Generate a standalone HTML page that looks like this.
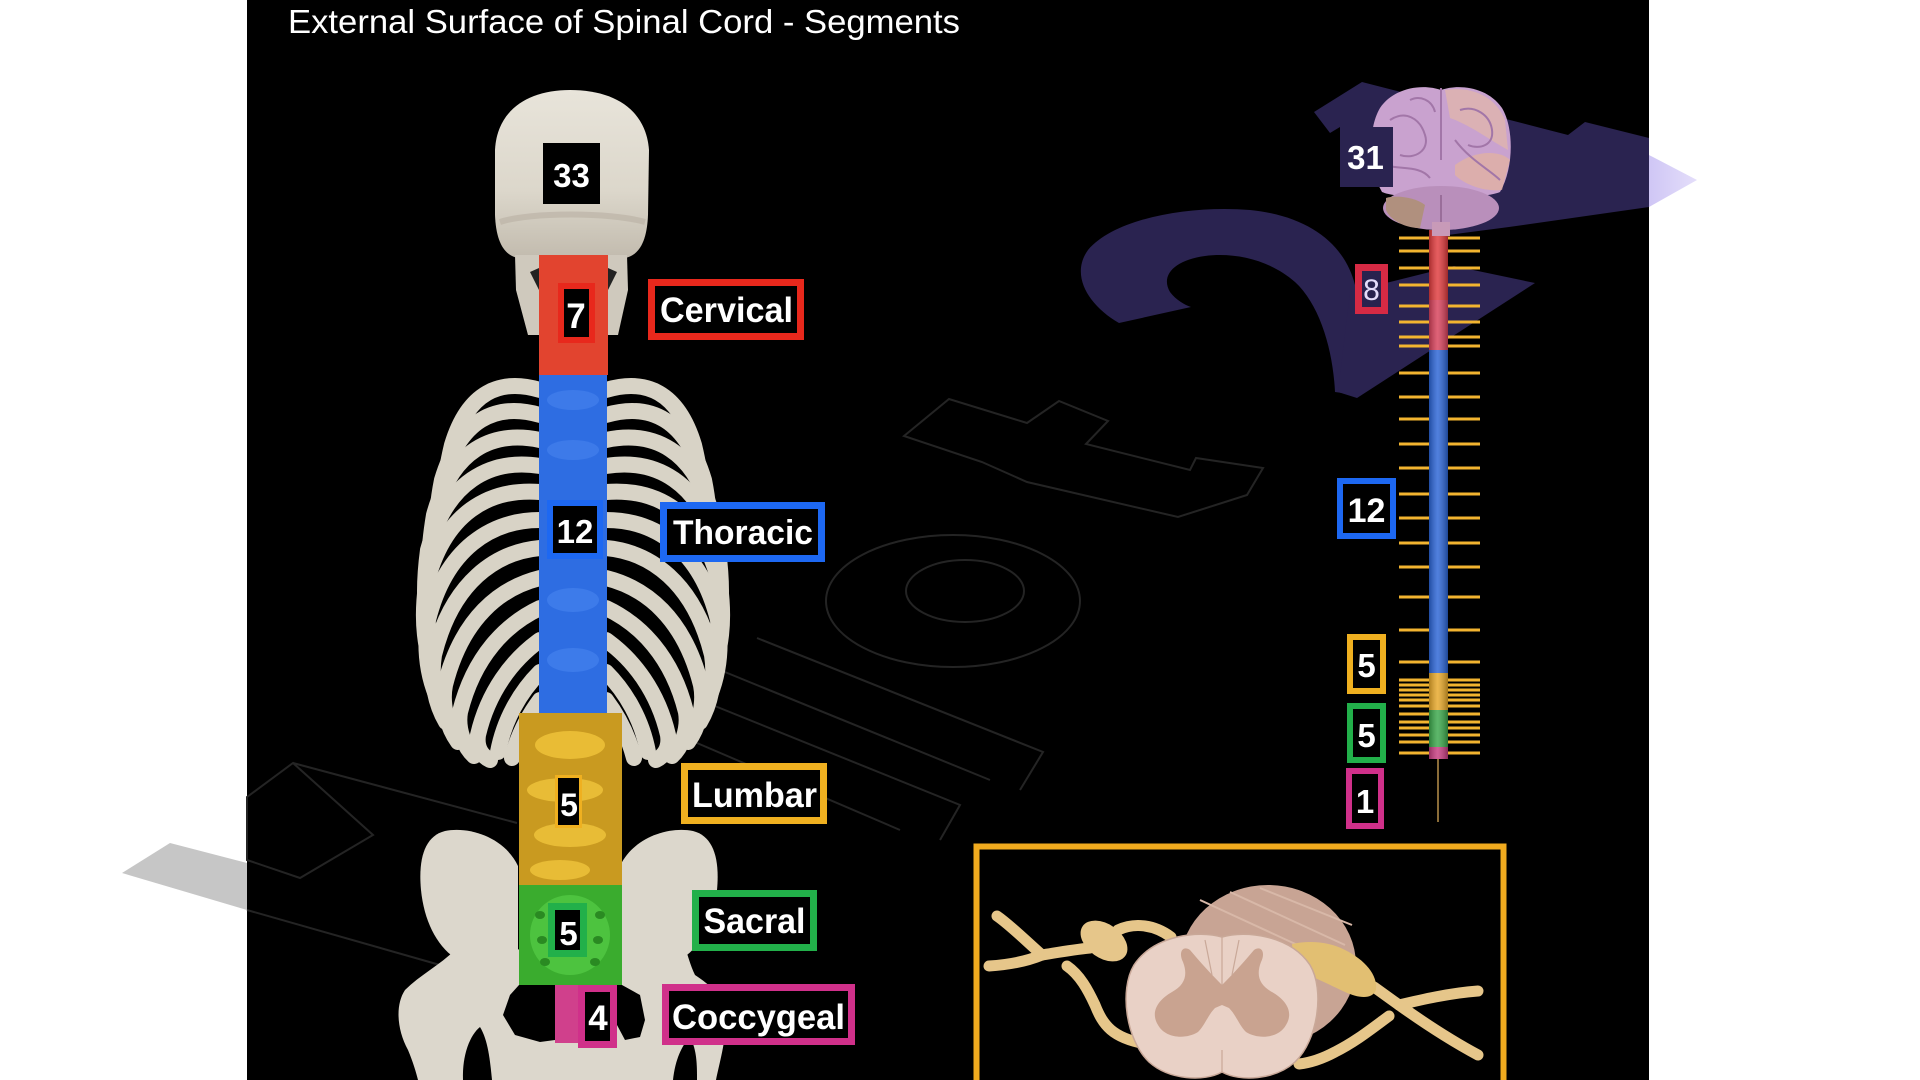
<!DOCTYPE html>
<html><head><meta charset="utf-8"><style>html,body{margin:0;padding:0;background:#fff;}svg{display:block}</style></head>
<body>
<svg xmlns="http://www.w3.org/2000/svg" width="1920" height="1080" viewBox="0 0 1920 1080" font-family="'Liberation Sans', Arial, sans-serif">
<defs>
 <linearGradient id="skullG" x1="0" y1="0" x2="0" y2="1"><stop offset="0" stop-color="#e8e4da"/><stop offset="0.6" stop-color="#dcd7cb"/><stop offset="1" stop-color="#c2bbae"/></linearGradient>
 <linearGradient id="cordG" x1="0" y1="0" x2="1" y2="0"><stop offset="0" stop-color="#000" stop-opacity="0.25"/><stop offset="0.45" stop-color="#fff" stop-opacity="0.18"/><stop offset="1" stop-color="#000" stop-opacity="0.3"/></linearGradient>
 <linearGradient id="lav" x1="0" y1="0" x2="1" y2="0"><stop offset="0" stop-color="#cfc6f5"/><stop offset="1" stop-color="#e4defa"/></linearGradient>
</defs>
<rect width="1920" height="1080" fill="#fff"/>
<polygon points="122,873 170,843 247,863 247,910" fill="#c6c6c6"/>
<rect x="247" y="0" width="1402" height="1080" fill="#000"/>

<!-- faint watermark outlines -->
<g fill="none" stroke="#242424" stroke-width="2">
 <polygon points="904,436 949,399 1027,423 1059,401 1108,421 1086,444 1190,470 1196,458 1263,468 1247,495 1178,517 1027,482 982,462"/>
 <ellipse cx="953" cy="601" rx="127" ry="66"/>
 <ellipse cx="965" cy="591" rx="59" ry="31"/>
 <path d="M757,638 L1043,752 L1020,790 M720,670 L990,780 M700,700 L960,805 L940,840 M690,740 L900,830"/>
 <polygon points="247,797 293,763 373,835 300,878 247,860"/>
 <path d="M247,910 L447,967 M293,763 L517,823 M520,785 L560,760"/>
</g>

<!-- purple watermark shapes -->
<g fill="#2a2350">
 <polygon points="1314,112 1362,82 1568,135 1585,122 1649,138 1649,207 1509,227 1440,236 1393,190 1393,187 1340,187 1340,127 1330,133"/>
 <path d="M1119,323 C1088,305 1070,275 1088,250 C1115,218 1190,205 1250,210 C1310,216 1345,245 1355,285 C1360,315 1359,360 1357,395 L1335,392 C1333,350 1320,305 1295,282 C1270,260 1235,252 1205,256 C1175,260 1160,275 1170,292 C1176,300 1185,305 1191,307 Z"/>
 <polygon points="1350,292 1454,266 1535,283 1357,398 1338,392"/>
</g>
<polygon points="1649,155 1697,180 1649,207" fill="url(#lav)"/>

<!-- title -->
<text x="288" y="33" font-size="33" fill="#fff" textLength="672" lengthAdjust="spacingAndGlyphs">External Surface of Spinal Cord - Segments</text>

<!-- skull -->
<path d="M570,90 C615,90 646,110 649,150 L648,215 C647,240 640,255 625,258 L518,258 C503,255 496,240 495,215 L495,150 C497,110 528,90 570,90 Z" fill="url(#skullG)"/>
<path d="M500,222 C530,212 610,212 645,222" stroke="#bcb4a6" stroke-width="6" fill="none" opacity="0.7"/>
<polygon points="515,255 540,255 540,335 528,335 516,290" fill="#cfc9bd"/>
<polygon points="627,255 608,255 608,335 618,335 628,290" fill="#cfc9bd"/>
<polygon points="530,272 539,268 539,290" fill="#222"/>
<polygon points="617,272 608,268 608,290" fill="#222"/>

<!-- ribcage -->
<g fill="none" stroke="#d8d3c6" stroke-width="16" stroke-linecap="round">
 <path d="M540,390 C500,378 468,392 452,445 C446,470 444,490 446,500"/>
 <path d="M540,415 C495,402 460,420 442,480 C437,505 436,525 438,540"/>
 <path d="M540,440 C492,430 452,450 434,515 C429,545 428,570 431,585"/>
 <path d="M540,466 C490,458 446,482 428,550 C424,580 424,605 428,625"/>
 <path d="M540,492 C490,488 444,512 426,585 C422,615 424,640 430,660"/>
 <path d="M540,520 C492,520 446,548 428,620 C424,650 428,675 436,695"/>
 <path d="M540,548 C496,552 452,582 434,655 C430,680 436,705 446,722"/>
 <path d="M540,578 C500,588 462,618 445,685 C441,705 448,728 458,742"/>
 <path d="M540,608 C506,624 474,656 460,712 C457,730 465,748 474,756"/>
 <path d="M540,640 C512,660 488,692 478,735 C476,748 482,756 490,760"/>
 <path d="M540,672 C520,692 504,720 498,752"/>
 <path d="M540,700 C528,716 518,735 512,758"/>
</g>
<g transform="translate(1146,0) scale(-1,1)" fill="none" stroke="#d8d3c6" stroke-width="16" stroke-linecap="round">
 <path d="M540,390 C500,378 468,392 452,445 C446,470 444,490 446,500"/>
 <path d="M540,415 C495,402 460,420 442,480 C437,505 436,525 438,540"/>
 <path d="M540,440 C492,430 452,450 434,515 C429,545 428,570 431,585"/>
 <path d="M540,466 C490,458 446,482 428,550 C424,580 424,605 428,625"/>
 <path d="M540,492 C490,488 444,512 426,585 C422,615 424,640 430,660"/>
 <path d="M540,520 C492,520 446,548 428,620 C424,650 428,675 436,695"/>
 <path d="M540,548 C496,552 452,582 434,655 C430,680 436,705 446,722"/>
 <path d="M540,578 C500,588 462,618 445,685 C441,705 448,728 458,742"/>
 <path d="M540,608 C506,624 474,656 460,712 C457,730 465,748 474,756"/>
 <path d="M540,640 C512,660 488,692 478,735 C476,748 482,756 490,760"/>
 <path d="M540,672 C520,692 504,720 498,752"/>
 <path d="M540,700 C528,716 518,735 512,758"/>
</g>

<!-- pelvis -->
<g fill="#dcd7cc">
 <path d="M518,866 C505,838 470,826 445,831 C425,836 418,858 421,890 C424,920 436,945 455,958 L518,975 Z"/>
 <path transform="translate(1138,0) scale(-1,1)" d="M518,866 C505,838 470,826 445,831 C425,836 418,858 421,890 C424,920 436,945 455,958 L518,975 Z"/>
 <path d="M455,950 C440,965 420,975 405,990 C395,1005 397,1030 408,1050 C413,1062 416,1072 418,1080 L716,1080 C720,1060 728,1035 725,1010 C722,995 710,985 695,975 C690,965 688,955 685,948 Z"/>
</g>
<g fill="#000">
 <polygon points="519,985 555,985 555,1040 540,1042 515,1035 503,1015 510,995"/>
 <polygon points="582,985 622,985 640,995 645,1020 640,1037 625,1040 617,1025 617,1000 582,1000"/>
 <path d="M463,1080 C462,1055 470,1035 480,1027 C488,1040 490,1060 492,1080 Z"/>
 <path d="M673,1080 C675,1060 682,1045 690,1037 C697,1050 697,1065 697,1080 Z"/>
</g>

<!-- spine bars -->
<rect x="539" y="255" width="69" height="120" fill="#e2442f"/>
<rect x="539" y="375" width="68" height="338" fill="#2e6de2"/>
<g fill="#4a86f0" opacity="0.55">
 <ellipse cx="573" cy="400" rx="26" ry="10"/><ellipse cx="573" cy="450" rx="26" ry="10"/><ellipse cx="573" cy="600" rx="26" ry="12"/><ellipse cx="573" cy="660" rx="26" ry="12"/>
</g>
<rect x="519" y="713" width="103" height="172" fill="#c99a20"/>
<g fill="#eec23a" opacity="0.85">
 <ellipse cx="570" cy="745" rx="35" ry="14"/><ellipse cx="565" cy="790" rx="38" ry="12"/><ellipse cx="570" cy="835" rx="36" ry="12"/><ellipse cx="560" cy="870" rx="30" ry="10"/>
</g>
<rect x="519" y="885" width="103" height="100" fill="#3aac2e"/>
<g fill="#52c944" opacity="0.8"><ellipse cx="570" cy="935" rx="40" ry="40"/></g>
<g fill="#2a8a22"><ellipse cx="540" cy="915" rx="5" ry="4"/><ellipse cx="600" cy="915" rx="5" ry="4"/><ellipse cx="542" cy="940" rx="5" ry="4"/><ellipse cx="598" cy="940" rx="5" ry="4"/><ellipse cx="545" cy="962" rx="5" ry="4"/><ellipse cx="595" cy="962" rx="5" ry="4"/></g>
<rect x="555" y="985" width="27" height="58" fill="#d0408c"/>

<!-- left labels -->
<g font-weight="bold" fill="#fff" text-anchor="middle">
 <rect x="543" y="143" width="57" height="61" fill="#000"/>
 <text x="571.5" y="187" font-size="33">33</text>

 <rect x="561" y="286" width="31" height="54" fill="#000" stroke="#e8281c" stroke-width="6"/>
 <text x="576" y="328" font-size="35">7</text>
 <rect x="651.5" y="282.5" width="149" height="54" fill="#000" stroke="#e8281c" stroke-width="7"/>
 <text x="726.5" y="322" font-size="35" textLength="133" lengthAdjust="spacingAndGlyphs">Cervical</text>

 <rect x="550" y="503" width="50" height="53" fill="#000" stroke="#1d68f2" stroke-width="6"/>
 <text x="575" y="543" font-size="33">12</text>
 <rect x="663.5" y="505.5" width="158" height="53" fill="#000" stroke="#1d68f2" stroke-width="7"/>
 <text x="743" y="544" font-size="34" textLength="140" lengthAdjust="spacingAndGlyphs">Thoracic</text>

 <rect x="556.5" y="776.5" width="24" height="50" fill="#000" stroke="#efb020" stroke-width="3"/>
 <text x="569" y="816" font-size="32">5</text>
 <rect x="684.5" y="766.5" width="139" height="54" fill="#000" stroke="#efb020" stroke-width="7"/>
 <text x="754.5" y="807" font-size="35" textLength="125" lengthAdjust="spacingAndGlyphs">Lumbar</text>

 <rect x="551.5" y="906.5" width="32" height="47" fill="#000" stroke="#22b04a" stroke-width="7"/>
 <text x="568.5" y="945" font-size="33">5</text>
 <rect x="695.5" y="893.5" width="118" height="54" fill="#000" stroke="#22b04a" stroke-width="7"/>
 <text x="754.5" y="933" font-size="35" textLength="102" lengthAdjust="spacingAndGlyphs">Sacral</text>

 <rect x="581.5" y="988.5" width="32" height="56" fill="#000" stroke="#d0308a" stroke-width="7"/>
 <text x="598" y="1030" font-size="35">4</text>
 <rect x="665.5" y="987.5" width="186" height="54" fill="#000" stroke="#d0308a" stroke-width="7"/>
 <text x="758.5" y="1029" font-size="35" textLength="173" lengthAdjust="spacingAndGlyphs">Coccygeal</text>
</g>

<!-- right: nerve lines -->
<g stroke="#f2b430" stroke-width="3">
 <path d="M1399,238H1480M1399,251H1480M1399,268H1480M1399,285H1480M1399,306H1480M1399,322H1480M1399,337H1480M1399,346H1480M1399,373H1480M1399,397H1480M1399,419H1480M1399,444H1480M1399,468H1480M1399,494H1480M1399,518H1480M1399,543H1480M1399,567H1480M1399,597H1480M1399,630H1480M1399,662H1480M1399,680H1480M1399,685H1480M1399,690H1480M1399,695H1480M1399,700H1480M1399,706H1480M1399,714H1480M1399,722H1480M1399,728H1480M1399,735H1480M1399,742H1480M1399,753H1480"/>
</g>
<!-- cord -->
<rect x="1429" y="230" width="19" height="120" fill="#e03a3c"/>
<rect x="1429" y="300" width="19" height="50" fill="#d8405a"/>
<rect x="1429" y="350" width="19" height="323" fill="#2a64d6"/>
<rect x="1429" y="673" width="19" height="37" fill="#e8a828"/>
<rect x="1429" y="710" width="19" height="37" fill="#3aa84a"/>
<rect x="1429" y="747" width="19" height="12" fill="#c83c80"/>
<rect x="1429" y="230" width="19" height="529" fill="url(#cordG)"/>
<line x1="1438" y1="759" x2="1438" y2="822" stroke="#b8904a" stroke-width="1.5"/>

<!-- brain -->
<path d="M1441,90 C1425,84 1395,86 1380,108 C1368,128 1368,168 1382,192 C1400,200 1482,200 1500,192 C1514,168 1514,128 1502,108 C1487,86 1457,84 1441,90 Z" fill="#c9a2cf"/>
<path d="M1445,90 C1470,86 1495,95 1505,120 L1508,150 C1490,140 1470,125 1450,118 Z" fill="#e2b8a8" opacity="0.7"/>
<path d="M1455,165 C1475,150 1500,150 1510,160 L1502,190 C1485,192 1465,185 1455,175 Z" fill="#e4b49c" opacity="0.7"/>
<g fill="none" stroke="#a276a8" stroke-width="2">
 <path d="M1441,88 L1441,160"/>
 <path d="M1390,120 C1405,110 1420,118 1425,135 C1430,150 1415,160 1400,155"/>
 <path d="M1385,165 C1400,170 1420,165 1430,178"/>
 <path d="M1460,110 C1475,105 1490,115 1492,130 C1494,145 1480,150 1468,145"/>
 <path d="M1455,140 C1470,160 1490,170 1500,180"/>
 <path d="M1410,100 C1420,95 1432,100 1435,112"/>
</g>
<ellipse cx="1441" cy="208" rx="58" ry="22" fill="#b98fbb"/>
<path d="M1386,198 C1395,195 1415,197 1425,205 L1420,228 C1405,228 1390,220 1386,210 Z" fill="#b0907e"/>
<path d="M1441,195 L1441,225" stroke="#9a6e9a" stroke-width="2"/>
<rect x="1432" y="222" width="18" height="14" fill="#c89ab8"/>

<!-- 31 box and right labels -->
<rect x="1340" y="127" width="53" height="60" fill="#2a2350"/>
<g font-weight="bold" fill="#fff" text-anchor="middle">
 <text x="1365.5" y="169" font-size="33">31</text>
 <rect x="1340" y="481" width="53" height="55" fill="#000" stroke="#1d68f2" stroke-width="6"/>
 <text x="1366.5" y="522" font-size="34">12</text>
 <rect x="1350" y="637" width="33" height="54" fill="#000" stroke="#efb020" stroke-width="6"/>
 <text x="1366.5" y="677" font-size="33">5</text>
 <rect x="1350" y="706" width="33" height="54" fill="#000" stroke="#22b04a" stroke-width="6"/>
 <text x="1366.5" y="747" font-size="33">5</text>
 <rect x="1349" y="771" width="32" height="55" fill="#000" stroke="#d0308a" stroke-width="6"/>
 <text x="1365" y="813" font-size="33">1</text>
</g>
<rect x="1358.5" y="267.5" width="26" height="43" fill="#28224e" stroke="#d62a44" stroke-width="7"/>
<text x="1371.5" y="300" font-size="30" fill="#e4dcfa" text-anchor="middle">8</text>

<!-- inset -->
<rect x="976.5" y="846.5" width="527" height="260" fill="#000" stroke="#f0aa1e" stroke-width="6"/>
<ellipse cx="1268" cy="965" rx="88" ry="80" fill="#c8a494"/>
<g stroke="#d8b8a8" stroke-width="2" fill="none"><path d="M1200,900 L1330,960 M1230,892 L1345,945 M1260,888 L1352,925"/></g>
<!-- left nerves -->
<g fill="none" stroke="#e6c68a" stroke-width="11" stroke-linecap="round">
 <path d="M1171,937 C1155,925 1135,922 1118,930"/>
 <path d="M1090,948 C1070,950 1055,953 1042,955"/>
 <path d="M1042,955 C1025,940 1010,925 997,916"/>
 <path d="M1042,955 C1025,962 1005,965 989,966"/>
 <path d="M1067,966 C1080,975 1088,990 1095,1005 C1103,1025 1112,1038 1146,1044"/>
</g>
<ellipse cx="1104" cy="941" rx="26" ry="17" transform="rotate(35 1104 941)" fill="#e6c68a"/>
<!-- right nerves -->
<g fill="none" stroke="#e6c68a" stroke-width="11" stroke-linecap="round">
 <path d="M1374,987 C1385,995 1392,1000 1399,1005"/>
 <path d="M1399,1005 C1420,1000 1450,993 1478,991"/>
 <path d="M1399,1005 C1420,1020 1450,1040 1478,1055"/>
 <path d="M1389,1016 C1370,1030 1355,1042 1335,1052 C1320,1060 1308,1063 1299,1064"/>
</g>
<path d="M1292,944 C1310,940 1330,942 1345,950 C1365,960 1378,975 1376,990 C1372,1000 1358,998 1345,992 C1330,985 1310,975 1295,970 Z" fill="#e2bf72"/>
<!-- front face -->
<path d="M1222,937 C1245,930 1290,935 1310,965 C1325,990 1318,1040 1295,1062 C1275,1080 1240,1082 1222,1072 C1204,1082 1169,1080 1149,1062 C1126,1040 1119,990 1134,965 C1154,935 1199,930 1222,937 Z" fill="#e9d1c6" stroke="#c9a898" stroke-width="1.5"/>
<g fill="#c9a390">
 <path d="M1222,985 C1212,975 1200,962 1190,950 C1183,945 1178,952 1183,962 C1188,975 1185,985 1172,992 C1158,1000 1150,1012 1158,1025 C1165,1038 1185,1040 1198,1032 C1205,1025 1208,1015 1215,1008 L1222,1005 Z"/>
 <path transform="translate(2444,0) scale(-1,1)" d="M1222,985 C1212,975 1200,962 1190,950 C1183,945 1178,952 1183,962 C1188,975 1185,985 1172,992 C1158,1000 1150,1012 1158,1025 C1165,1038 1185,1040 1198,1032 C1205,1025 1208,1015 1215,1008 L1222,1005 Z"/>
</g>
<g stroke="#c9a898" stroke-width="1.2" fill="none"><path d="M1222,937 L1222,985 M1205,940 L1212,975 M1239,940 L1232,975 M1222,1050 L1222,1072"/></g>
</svg>
</body></html>
